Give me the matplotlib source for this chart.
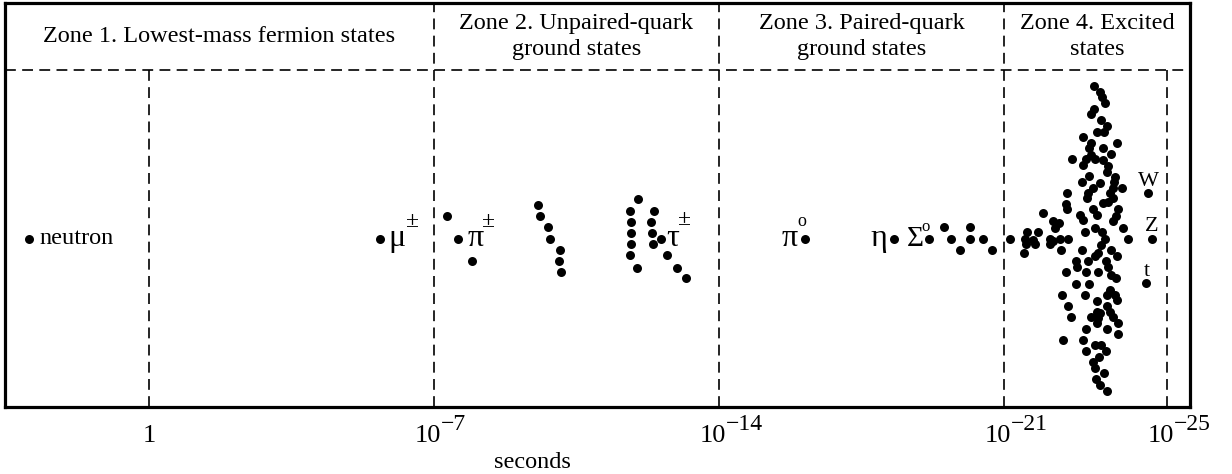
import matplotlib
matplotlib.use("Agg")
import matplotlib.pyplot as plt
import matplotlib.transforms as mtransforms

plt.rcParams['font.family'] = ['Liberation Serif', 'DejaVu Serif']

# x: -log10(mean lifetime in seconds); y: vertical spread of states with similar lifetimes
neutron_x = [-2.94]
neutron_y = [0.0]
muon_x = [5.67]
muon_y = [0.0]

zone2_x = [7.31, 7.60, 7.93,
           9.56, 9.60, 9.81, 9.85, 10.09, 10.07, 10.11,
           12.02, 11.81, 11.84, 11.84, 11.84, 11.81, 11.98,
           12.40, 12.32, 12.36, 12.39, 12.57, 12.73, 12.98, 13.19]
zone2_y = [2, 0, -2,
           3, 2, 1, 0, -1, -2, -3,
           3.5, 2.5, 1.5, 0.5, -0.5, -1.5, -2.6,
           2.5, 1.5, 0.5, -0.5, 0, -1.5, -2.6, -3.5]

zone3_x = [16.11, 18.30, 19.16, 19.53, 19.69, 19.92, 20.16, 20.16, 20.49, 20.71]
zone3_y = [0, 0, 0, 1.05, 0, -1.0, 1.05, 0, 0, -1.0]

zone4_x = [21.15,
           23.22, 23.37, 23.40, 23.48, 23.22, 23.15, 23.38, 23.54, 23.46, 23.28,
           22.95, 23.77, 23.15, 23.09, 23.44, 23.15, 23.63, 22.66, 23.01, 23.23,
           23.44, 22.93, 23.56, 23.52, 23.73, 23.09, 22.91, 23.36, 23.71, 23.89,
           23.19, 23.68, 22.54, 23.07, 23.60, 23.03, 23.68, 22.52, 23.44, 23.56,
           23.19, 22.54, 23.81, 21.97, 22.87, 23.28, 23.75, 22.93, 23.68, 22.21,
           22.36, 22.25, 23.23, 23.93, 21.57, 21.84, 22.99, 23.40, 21.52, 21.72,
           22.13, 22.21, 22.37, 22.58, 23.48, 24.05,
           21.54, 21.76, 21.49, 22.13, 22.40, 22.91, 23.38, 23.32, 23.23, 23.64,
           23.77, 22.77, 23.07, 23.50, 22.80, 23.56, 22.52, 23.01, 23.32, 23.64,
           23.75, 22.77, 23.09, 22.42, 22.99, 23.60, 23.54, 23.73, 23.77, 23.28,
           22.58, 23.52, 23.28, 23.36, 23.60, 22.64, 23.13, 23.32, 23.68, 23.28,
           23.81, 23.01, 23.52, 23.81, 22.44, 22.95, 23.23, 23.38, 23.01, 23.50,
           23.34, 23.19, 23.23, 23.46, 23.26, 23.36, 23.54]
zone4_y = [0.0,
           13.62, 13.11, 12.66, 12.07, 11.56, 11.09, 10.58, 10.07, 9.54, 9.48,
           9.09, 8.55, 8.55, 8.05, 8.11, 7.46, 7.54, 7.07, 7.07, 7.07,
           7.01, 6.56, 6.50, 5.96, 5.52, 5.58, 5.02, 4.98, 5.02, 4.54,
           4.48, 4.48, 4.04, 4.04, 4.04, 3.59, 3.59, 3.05, 3.14, 3.29,
           2.63, 2.63, 2.63, 2.25, 2.10, 2.10, 2.04, 1.65, 1.59, 1.56,
           1.36, 0.96, 0.96, 0.96, 0.61, 0.55, 0.61, 0.61, 0.0, -0.13,
           0.0, -0.2, 0.0, 0.0, 0.0, 0.0,
           -0.52, -0.52, -1.32, -0.52, -1.03, -1.03, -0.58, -1.32, -1.54, -1.03,
           -1.54, -2.01, -2.01, -2.01, -2.52, -2.52, -3.02, -3.02, -3.02, -3.26,
           -3.55, -4.06, -4.06, -5.04, -5.04, -4.60, -5.04, -5.04, -5.49, -5.55,
           -6.03, -6.03, -6.54, -6.68, -6.54, -7.04, -7.04, -7.13, -7.04, -7.57,
           -7.57, -8.08, -8.08, -8.55, -9.06, -9.06, -9.51, -9.51, -10.04, -10.04,
           -10.55, -11.05, -11.59, -12.04, -12.54, -13.08, -13.59]

boson_names = ["W", "Z", "t"]
boson_x = [24.54, 24.63, 24.50]
boson_y = [4.04, 0.0, -4.0]

tick_values = [0, 7, 14, 21, 25]
tick_exponents = [None, 7, 14, 21, 25]

zone_edges = [7, 14, 21]
inner_edges = [0, 25]
zone_titles = ["Zone 1. Lowest-mass fermion states",
               "Zone 2. Unpaired-quark\nground states",
               "Zone 3. Paired-quark\nground states",
               "Zone 4. Excited\nstates"]

XMIN, XMAX = -3.537, 25.57
YMIN, YMAX = -15.04, 21.03
HEADER_Y = 15.04

fig = plt.figure(figsize=(12.32, 4.74), dpi=100)
ax = fig.add_axes([5 / 1232, 67 / 474, 1185 / 1232, 404 / 474])
ax.set_xlim(XMIN, XMAX)
ax.set_ylim(YMIN, YMAX)
ax.set_xticks([])
ax.set_yticks([])
for s in ax.spines.values():
    s.set_linewidth(2.3)
    s.set_color('black')

dash = dict(color='black', lw=1.2, linestyle=(0, (6.5, 3.8)))
ax.axhline(HEADER_Y, **dash)
for xe in zone_edges:
    ax.axvline(xe, **dash)
for xe in inner_edges:
    ax.plot([xe, xe], [YMIN, HEADER_Y], **dash)

# zone headings
zone_bounds = [XMIN] + zone_edges + [XMAX]
for i, title in enumerate(zone_titles):
    xc = (zone_bounds[i] + zone_bounds[i + 1]) / 2
    ax.text(xc, (HEADER_Y + YMAX) / 2, title, ha='center', va='center',
            fontsize=17.5, linespacing=1.36)

# particles
mk = dict(s=42, color='black', linewidths=0, zorder=3)
for xs, ys in [(neutron_x, neutron_y), (muon_x, muon_y), (zone2_x, zone2_y),
               (zone3_x, zone3_y), (zone4_x, zone4_y), (boson_x, boson_y)]:
    ax.scatter(xs, ys, **mk)

def label(x, y, text, dx, dy, size, ha='left', va='baseline'):
    ax.annotate(text, xy=(x, y), xytext=(dx, dy), textcoords='offset points',
                ha=ha, va=va, fontsize=size)

label(neutron_x[0], neutron_y[0], "neutron", 7.5, 0, 17.5, va='center')
label(muon_x[0], muon_y[0], "μ", 6.5, -5.5, 23)
label(muon_x[0], muon_y[0], "±", 23.5, 12, 17, ha='center', va='center')
label(zone2_x[1], zone2_y[1], "π", 6.5, -5.5, 23)
label(zone2_x[1], zone2_y[1], "±", 21.5, 12, 17, ha='center', va='center')
label(zone2_x[21], zone2_y[21], "τ", 4, -5.5, 23)
label(zone2_x[21], zone2_y[21], "±", 17, 13.5, 17, ha='center', va='center')
label(zone3_x[0], zone3_y[0], "π", -5, -5.5, 23, ha='right')
label(zone3_x[0], zone3_y[0], "o", -2.5, 12, 13, ha='center', va='center')
label(zone3_x[1], zone3_y[1], "η", -5, -5.5, 23, ha='right')
label(zone3_x[2], zone3_y[2], "Σ", -4, -5.5, 21, ha='right')
label(zone3_x[2], zone3_y[2], "o", -2.5, 8, 12, ha='center', va='center')
for name, bx, by in zip(boson_names, boson_x, boson_y):
    label(bx, by, name, 0, 8.5, 16, ha='center', va='center')

# lifetime axis labels: base "10" with a full-size raised exponent
tf = mtransforms.blended_transform_factory(ax.transData, ax.transAxes)
TICK_BASE = -25
for t, e in zip(tick_values, tick_exponents):
    if e is None:
        ax.annotate("1", xy=(t, 0), xycoords=tf, xytext=(0, TICK_BASE),
                    textcoords='offset points', ha='center', va='baseline',
                    fontsize=19)
    else:
        ax.annotate("10", xy=(t, 0), xycoords=tf, xytext=(5, TICK_BASE),
                    textcoords='offset points', ha='right', va='baseline',
                    fontsize=19)
        ax.annotate("\u2212" + str(e), xy=(t, 0), xycoords=tf,
                    xytext=(5, TICK_BASE + 8.5), textcoords='offset points',
                    ha='left', va='baseline', fontsize=17)
ax.annotate("seconds", xy=(0.445, 0), xycoords='axes fraction', xytext=(0, -44),
            textcoords='offset points', ha='center', va='baseline', fontsize=17.5)

fig.savefig("out.png", dpi=100)
